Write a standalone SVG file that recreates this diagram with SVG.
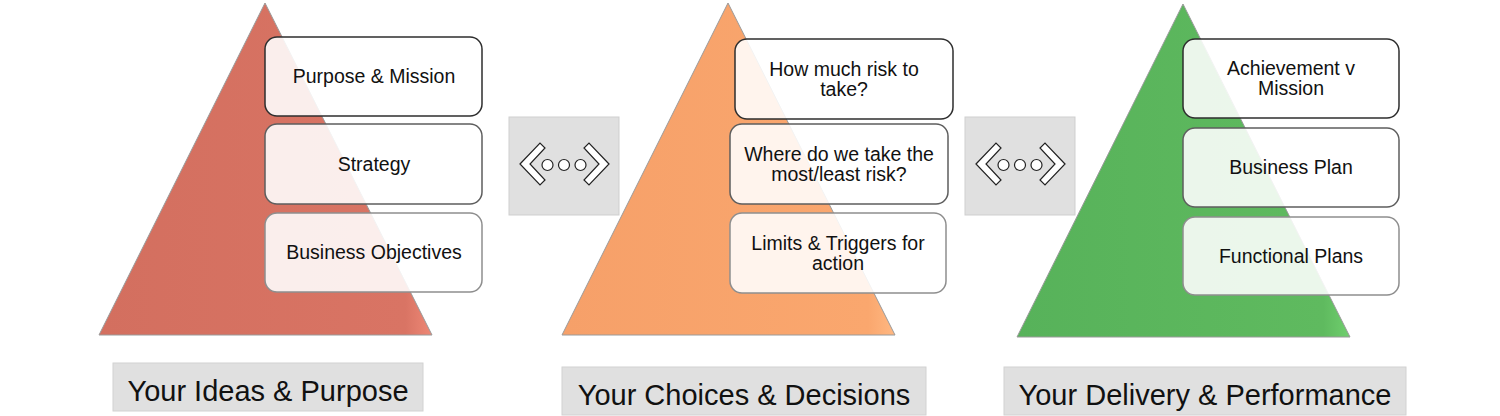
<svg xmlns="http://www.w3.org/2000/svg" width="1500" height="416" viewBox="0 0 1500 416">
<defs>
<linearGradient id="gRed" x1="0" y1="0" x2="1" y2="0">
<stop offset="0" stop-color="#d36f5f"/><stop offset="0.92" stop-color="#d97464"/><stop offset="1" stop-color="#ee8876"/>
</linearGradient>
<linearGradient id="gOrange" x1="0" y1="0" x2="1" y2="0">
<stop offset="0" stop-color="#f6a069"/><stop offset="0.92" stop-color="#faa76e"/><stop offset="1" stop-color="#ffb882"/>
</linearGradient>
<linearGradient id="gGreen" x1="0" y1="0" x2="1" y2="0">
<stop offset="0" stop-color="#57b25a"/><stop offset="0.92" stop-color="#5fba5f"/><stop offset="1" stop-color="#70cf6e"/>
</linearGradient>
<g id="chev">
<polygon points="520,164 540,143 545,148 530,164 545,180 540,185" />
</g>
</defs>
<style>
.tri{stroke:#9a9a9a;stroke-width:1;stroke-linejoin:round}
.box{fill:#ffffff;fill-opacity:0.88;stroke-width:1.5}
.b1{stroke:#2e2e2e}
.b2{stroke:#5e5e5e}
.b3{stroke:#8e8e8e}
.t{font-family:"Liberation Sans",Arial,sans-serif;font-size:19.5px;fill:#111;text-anchor:middle}
.lab{font-family:"Liberation Sans",Arial,sans-serif;font-size:29px;fill:#111;text-anchor:middle}
.labbox{fill:#e0e0e0;stroke:#d2d2d2;stroke-width:1}
.conn{fill:#e0e0e0;stroke:#cfcfcf;stroke-width:1}
.ic{fill:#ffffff;stroke:#222;stroke-width:1.2;stroke-linejoin:miter}
</style>

<g id="pyramid-ideas">
<polygon class="tri" points="265,3 432,335 99,335" fill="url(#gRed)"/>
<g id="node-purpose">
<rect class="box b1" x="265" y="37" width="217" height="79" rx="12"/>
<text class="t" x="374" y="83">Purpose &amp; Mission</text>
</g>
<g id="node-strategy">
<rect class="box b2" x="265" y="124" width="217" height="80" rx="12"/>
<text class="t" x="374" y="171">Strategy</text>
</g>
<g id="node-objectives">
<rect class="box b3" x="265" y="213" width="217" height="79" rx="12"/>
<text class="t" x="374" y="259">Business Objectives</text>
</g>
</g>

<g id="pyramid-choices">
<polygon class="tri" points="728,3 895,335 562,335" fill="url(#gOrange)"/>
<g id="node-risk">
<rect class="box b1" x="735" y="39" width="218" height="80" rx="12"/>
<text class="t" x="844" y="75.5">How much risk to</text>
<text class="t" x="844" y="95.5">take?</text>
</g>
<g id="node-where">
<rect class="box b2" x="730" y="124" width="218" height="80" rx="12"/>
<text class="t" x="839" y="160.5">Where do we take the</text>
<text class="t" x="839" y="180.5">most/least risk?</text>
</g>
<g id="node-limits">
<rect class="box b3" x="730" y="213" width="216" height="80" rx="12"/>
<text class="t" x="838" y="249.5">Limits &amp; Triggers for</text>
<text class="t" x="838" y="269.5">action</text>
</g>
</g>

<g id="pyramid-delivery">
<polygon class="tri" points="1183,4 1350,337 1017,337" fill="url(#gGreen)"/>
<g id="node-achievement">
<rect class="box b1" x="1183" y="39" width="216" height="79" rx="12"/>
<text class="t" x="1291" y="75">Achievement v</text>
<text class="t" x="1291" y="94.5">Mission</text>
</g>
<g id="node-bplan">
<rect class="box b2" x="1183" y="128" width="216" height="79" rx="12"/>
<text class="t" x="1291" y="174">Business Plan</text>
</g>
<g id="node-fplans">
<rect class="box b3" x="1183" y="217" width="216" height="78" rx="12"/>
<text class="t" x="1291" y="262.5">Functional Plans</text>
</g>
</g>

<g id="connectors">
<g id="connector-1">
<rect class="conn" x="509" y="117" width="110" height="98"/>
<use href="#chev" class="ic"/>
<use href="#chev" class="ic" transform="translate(1129,0) scale(-1,1)"/>
<circle class="ic" cx="547.5" cy="165" r="5.5"/>
<circle class="ic" cx="564" cy="165" r="5.5"/>
<circle class="ic" cx="580.5" cy="165" r="5.5"/>
</g>
<g id="connector-2">
<rect class="conn" x="965" y="117" width="110" height="98"/>
<use href="#chev" class="ic" transform="translate(456,0)"/>
<use href="#chev" class="ic" transform="translate(1585,0) scale(-1,1)"/>
<circle class="ic" cx="1003.5" cy="165" r="5.5"/>
<circle class="ic" cx="1020" cy="165" r="5.5"/>
<circle class="ic" cx="1036.5" cy="165" r="5.5"/>
</g>
</g>

<g id="label-ideas">
<rect class="labbox" x="113" y="363" width="310" height="48"/>
<text class="lab" x="268" y="401">Your Ideas &amp; Purpose</text>
</g>
<g id="label-choices">
<rect class="labbox" x="562" y="367" width="364" height="48"/>
<text class="lab" x="744" y="405">Your Choices &amp; Decisions</text>
</g>
<g id="label-delivery">
<rect class="labbox" x="1004" y="367" width="402" height="48"/>
<text class="lab" x="1205" y="405">Your Delivery &amp; Performance</text>
</g>
</svg>
